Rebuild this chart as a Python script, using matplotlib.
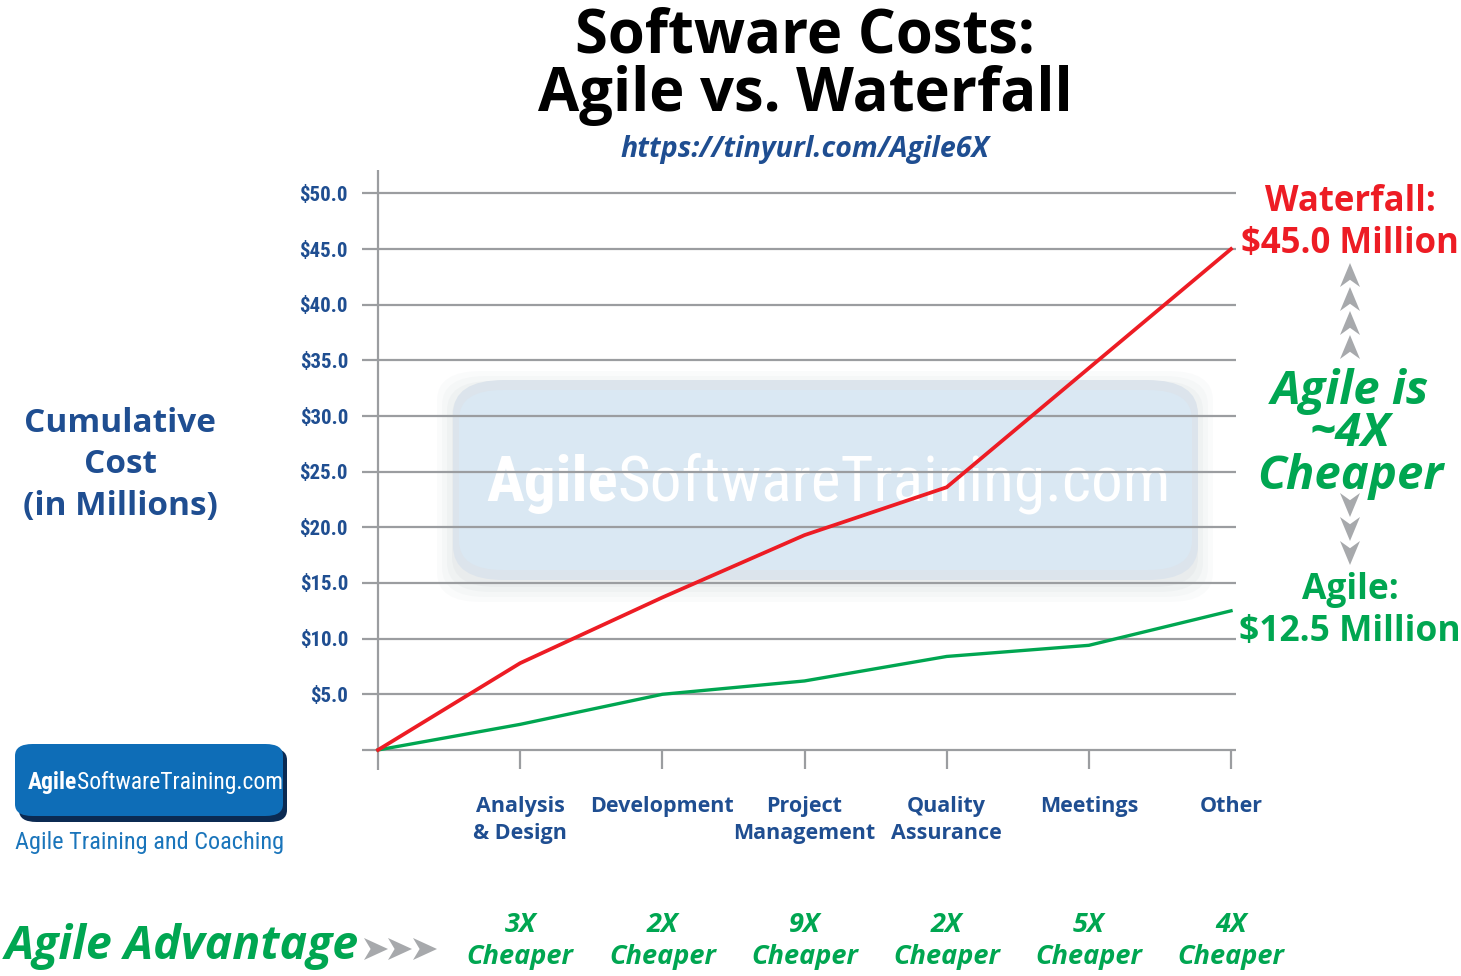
import matplotlib.pyplot as plt
import matplotlib.transforms as mtransforms
from matplotlib.patches import FancyBboxPatch, Polygon
from matplotlib.text import Annotation

# data (millions of dollars, cumulative)
stages = ['', 'Analysis\n& Design', 'Development', 'Project\nManagement',
          'Quality\nAssurance', 'Meetings', 'Other']
waterfall = [0, 7.8, 13.7, 19.3, 23.6, 34.3, 45.0]
agile = [0, 2.3, 5.0, 6.2, 8.4, 9.4, 12.5]
advantage = ['3X', '2X', '9X', '2X', '5X', '4X']
y_ticks = [5, 10, 15, 20, 25, 30, 35, 40, 45, 50]
y_labels = ['\\$%.1f' % v for v in y_ticks]

W, H = 1461, 976
BLUE = '#1F4E91'
GREEN = '#00A651'
RED = '#ED1C24'
GRAY = '#A7A9AC'
GRID = '#9B9DA0'
BOLD = ['Open Sans', 'DejaVu Sans']
NARROW = ['Roboto Condensed', 'Roboto', 'DejaVu Sans']
ITAL = ['Open Sans', 'Lato', 'DejaVu Sans']


def fx(x):
    return x / W


def fy(y):
    return 1 - y / H


fig = plt.figure(figsize=(W / 100, H / 100), dpi=100)
fig.patch.set_facecolor('white')

ax = fig.add_axes([fx(362), fy(770), (1236 - 362) / W, 600 / H])
ax.set_xlim(-0.1125, 6.035)
ax.set_ylim(-1.8, 52.1)
for s in ax.spines.values():
    s.set_visible(False)
ax.patch.set_alpha(0)

x = list(range(len(stages)))

# watermark box, drawn inside the axes below the grid
for i, a in enumerate([0.035, 0.04, 0.05, 0.06]):
    g = 18 - i * 5
    ax.add_artist(FancyBboxPatch((fx(455 - g), fy(578 + g + 6)), (740 + 2 * g) / W, (195 + 2 * g) / H,
                                 boxstyle='round,pad=0,rounding_size=0.03', transform=fig.transFigure,
                                 facecolor='#8A98A8', edgecolor='none', alpha=a, zorder=0.1,
                                 clip_on=False))
ax.add_artist(FancyBboxPatch((fx(453), fy(580)), 745 / W, 200 / H,
                             boxstyle='round,pad=0,rounding_size=0.035', transform=fig.transFigure,
                             facecolor='#DCE4EC', edgecolor='none', zorder=0.2, clip_on=False))
ax.add_artist(FancyBboxPatch((fx(459), fy(570)), 733 / W, 180 / H,
                             boxstyle='round,pad=0,rounding_size=0.03', transform=fig.transFigure,
                             facecolor='#DAE8F3', edgecolor='none', zorder=0.3, clip_on=False))
wm = ax.text(fx(486), fy(501), 'Agile', color='white', fontsize=45.5, fontweight='bold',
             family=NARROW, ha='left', va='baseline', zorder=0.4, transform=fig.transFigure)
ax.annotate('SoftwareTraining.com', xy=(1, 0), xycoords=wm, color='white', fontsize=45.5,
            family=NARROW, ha='left', va='bottom', zorder=0.4, annotation_clip=False)

# grid and axis
ax.hlines(y_ticks, -0.1125, 6.035, color=GRID, lw=1.6, zorder=1)
ax.hlines(0, -0.1125, 6.035, color=GRID, lw=1.6, zorder=1)
ax.vlines(0, -1.8, 52.1, color=GRID, lw=1.6, zorder=1)
ax.vlines(x[1:], -1.7, 0, color=GRID, lw=1.6, zorder=1)

ax.plot(x, agile, color=GREEN, lw=2.4, zorder=3, solid_joinstyle='miter')
ax.plot(x, waterfall, color=RED, lw=2.7, zorder=3, solid_joinstyle='miter')

ax.set_yticks(y_ticks, y_labels)
ax.set_xticks(x[1:], stages[1:])
ax.tick_params(length=0)
ax.tick_params(axis='y', pad=10)
ax.tick_params(axis='x', pad=19)
for lab in ax.get_yticklabels():
    lab.set_fontfamily(NARROW)
    lab.set_fontweight('bold')
    lab.set_fontsize(15)
    lab.set_color(BLUE)
for lab in ax.get_xticklabels():
    lab.set_fontfamily(BOLD)
    lab.set_fontweight('bold')
    lab.set_fontsize(15.5)
    lab.set_color(BLUE)
    lab.set_linespacing(1.35)

# per-category advantage row
trans = mtransforms.blended_transform_factory(ax.transData, fig.transFigure)
for xi, adv in zip(x[1:], advantage):
    ax.text(xi, fy(941), adv + '\nCheaper', transform=trans, ha='center', va='center',
            color=GREEN, fontsize=19.5, fontweight='bold', style='italic', family=ITAL,
            linespacing=1.3)

# titles
fig.text(0.551, fy(66), 'Software Costs:\nAgile vs. Waterfall', ha='center', va='center',
         fontsize=43, fontweight='bold', family=BOLD, linespacing=0.94)
fig.text(fx(805), fy(149), 'https://tinyurl.com/Agile6X', ha='center', va='center',
         fontsize=20.5, fontweight='bold', style='italic', color=BLUE, family=ITAL)
fig.text(fx(120), fy(465), 'Cumulative\nCost\n(in Millions)', ha='center', va='center',
         fontsize=24, fontweight='bold', color=BLUE, family=BOLD, linespacing=1.35)

# right side annotations
fig.text(fx(1350), fy(223), 'Waterfall:\n\\$45.0 Million', ha='center', va='center',
         fontsize=25, fontweight='bold', color=RED, family=BOLD, linespacing=1.2)
fig.text(fx(1350), fy(434), 'Agile is\n~4X\nCheaper', ha='center', va='center',
         fontsize=34, fontweight='bold', style='italic', color=GREEN, family=ITAL,
         linespacing=0.88)
fig.text(fx(1350), fy(611), 'Agile:\n\\$12.5 Million', ha='center', va='center',
         fontsize=25.5, fontweight='bold', color=GREEN, family=BOLD, linespacing=1.2)


def arrowhead(cx, cy, w, h, direction):
    n = h * 0.3
    if direction == 'up':
        pts = [(cx, cy - h / 2), (cx + w / 2, cy + h / 2), (cx, cy + h / 2 - n), (cx - w / 2, cy + h / 2)]
    elif direction == 'down':
        pts = [(cx, cy + h / 2), (cx + w / 2, cy - h / 2), (cx, cy - h / 2 + n), (cx - w / 2, cy - h / 2)]
    else:
        pts = [(cx + w / 2, cy), (cx - w / 2, cy - h / 2), (cx - w / 2 + n, cy), (cx - w / 2, cy + h / 2)]
    fig.add_artist(Polygon([(fx(a), fy(b)) for a, b in pts], closed=True, transform=fig.transFigure,
                           facecolor=GRAY, edgecolor='none'))


for cy in [275, 299, 323, 347]:
    arrowhead(1350, cy, 20, 24, 'up')
for cy in [505, 529, 553]:
    arrowhead(1350, cy, 20, 24, 'down')
for cx in [376, 400, 425]:
    arrowhead(cx, 949, 24, 22, 'right')

fig.text(fx(5), fy(946), 'Agile Advantage', ha='left', va='center', fontsize=33.5,
         fontweight='bold', style='italic', color=GREEN, family=ITAL)

# logo, bottom left
fig.add_artist(FancyBboxPatch((fx(19), fy(822)), 268 / W, 74 / H,
                              boxstyle='round,pad=0,rounding_size=0.012', transform=fig.transFigure,
                              facecolor='#0B2A52', edgecolor='none'))
fig.add_artist(FancyBboxPatch((fx(15), fy(816)), 268 / W, 72 / H,
                              boxstyle='round,pad=0,rounding_size=0.012', transform=fig.transFigure,
                              facecolor='#0E6DB7', edgecolor='none'))
lg = fig.text(fx(28), fy(789), 'Agile', color='white', fontsize=17, fontweight='bold',
              family=NARROW, ha='left', va='baseline')
fig.add_artist(Annotation('SoftwareTraining.com', xy=(1, 0), xycoords=lg, color='white',
                          fontsize=17, family=NARROW, ha='left', va='bottom',
                          annotation_clip=False))
fig.text(fx(150), fy(842), 'Agile Training and Coaching', color='#1A75BB', fontsize=17.5,
         family=NARROW, ha='center', va='center')

fig.savefig('out.png', dpi=100, facecolor='white')
